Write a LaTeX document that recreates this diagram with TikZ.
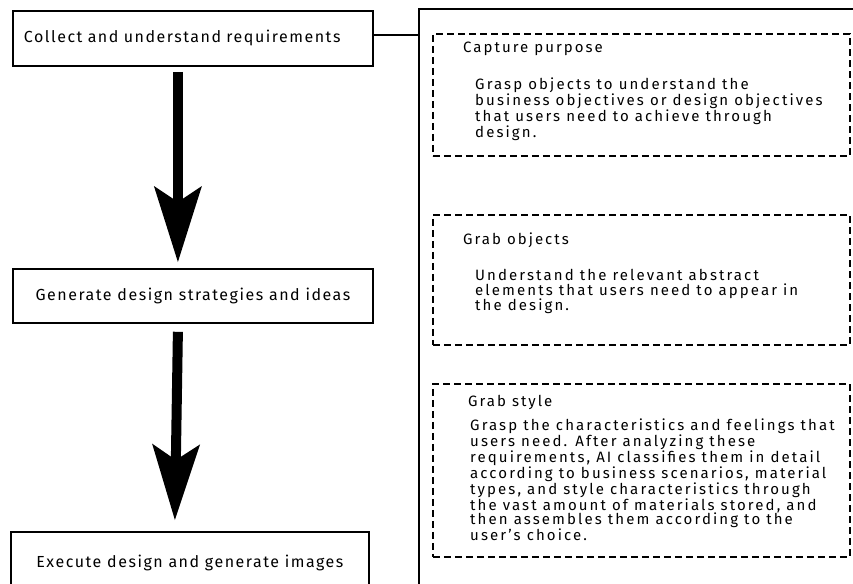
\documentclass[tikz,border=0pt]{standalone}
\usepackage{fontspec}
\setmainfont{Fira Sans}
\newfontfamily\lblfont{Fira Sans}[LetterSpace=9.5]
\newfontfamily\ttlfont{Fira Sans}[LetterSpace=13.5]
\newfontfamily\bodyfont{Fira Sans}[LetterSpace=14]
\usetikzlibrary{arrows.meta}
\begin{document}
\begin{tikzpicture}[x=1pt,y=-1pt,
  stepbox/.style={draw, line width=1.8pt, inner ysep=0pt, font=\lblfont\fontsize{16}{19}\selectfont},
  notebox/.style={draw, line width=1.8pt, dash pattern=on 7pt off 4pt, inner sep=0pt, anchor=north west},
  bigarrow/.style={line width=10pt, -{Stealth[length=76pt,width=48pt,inset=16pt,line width=0pt]}},
  ttl/.style={font=\ttlfont\fontsize{15}{17}\selectfont, anchor=base west, inner sep=0pt},
  body/.style={font=\bodyfont\fontsize{15}{14.6}\selectfont, anchor=north west, inner sep=0pt, align=left},
]
\clip (0,0) rectangle (853,583);
\fill[white] (0,0) rectangle (853,583);
% left steps
\node[stepbox, anchor=north west, minimum height=55pt, text width=338pt, inner xsep=11pt, align=left] (b1) at (12,10) {Collect and understand requirements};
\node[stepbox, anchor=north west, minimum height=54pt, minimum width=360pt, inner xsep=0pt] (b2) at (12,268) {Generate design strategies and ideas};
\node[stepbox, anchor=north west, minimum height=62pt, minimum width=358pt, inner xsep=0pt] (b3) at (10,531) {Execute design and generate images};
% panel
\node[draw, line width=1.8pt, anchor=north west, minimum width=470pt, minimum height=600pt, inner sep=0pt] (panel) at (418,8) {};
\draw[line width=1.8pt] ([yshift=3.5pt]b1.east) -- ([yshift=3.5pt]b1.east -| panel.west);
% arrows
\draw[bigarrow] ([xshift=-15pt,yshift=-5pt]b1.south) -- ([xshift=-15pt,yshift=6pt]b2.north);
\draw[bigarrow] ([xshift=-15pt,yshift=-8pt]b2.south) -- ([xshift=-15pt,yshift=11pt]b3.north);
% note boxes
\node[notebox, minimum width=417pt, minimum height=122pt] (d1) at (432,33) {};
\node[notebox, minimum width=417pt, minimum height=130pt] (d2) at (432,214) {};
\node[notebox, minimum width=417pt, minimum height=173pt] (d3) at (432,383) {};
\node[ttl] (t1) at (463,53) {Capture purpose};
\node[body] (c1) at (475,78) {Grasp objects to understand the\\business objectives or design objectives\\that users need to achieve through\\design.};
\node[ttl] (t2) at (463,244) {Grab objects};
\node[body] (c2) at (475,269) {Understand the relevant abstract\\elements that users need to appear in\\the design.};
\node[ttl] (t3) at (468,406) {Grab style};
\node[body] (c3) at (470,419) {Grasp the characteristics and feelings that\\users need. After analyzing these\\requirements, AI classifies them in detail\\according to business scenarios, material\\types, and style characteristics through\\the vast amount of materials stored, and\\then assembles them according to the\\user’s choice.};
\end{tikzpicture}
\end{document}
